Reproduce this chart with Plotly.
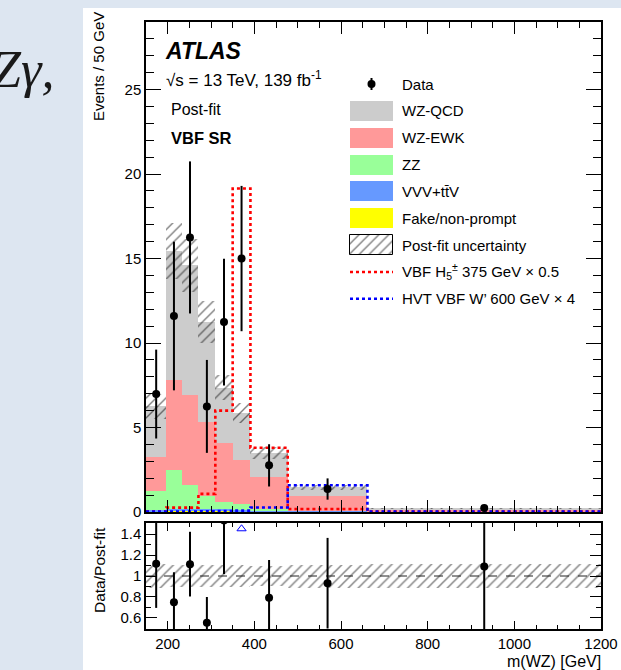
import plotly.graph_objects as go
import numpy as np

# ---------------- data ----------------
edges = [150, 197, 232, 271, 310, 350, 391, 477, 661, 1200]           # m(WZ) bin edges [GeV]
data = [6.98, 11.6, 16.25, 6.25, 11.24, 15.0, 2.76, 1.36, 0.24]         # Events / 50 GeV
data_err = [2.63, 4.4, 4.5, 2.75, 3.75, 4.3, 1.25, 0.63, 0.15]
fake = [0.04, 0.08, 0.08, 0.04, 0.04, 0.03, 0.03, 0.02, 0.01]
vvv_ttv = [0.10, 0.12, 0.12, 0.12, 0.12, 0.10, 0.07, 0.04, 0.02]
zz = [1.08, 2.30, 1.42, 0.76, 0.41, 0.32, 0.05, 0.02, 0.01]
wz_ewk = [2.06, 5.33, 5.32, 4.38, 3.51, 2.60, 1.90, 0.89, 0.08]
wz_qcd = [2.97, 7.62, 7.66, 5.95, 3.27, 2.80, 1.43, 0.49, 0.10]
post_fit_unc = [0.72, 1.68, 1.55, 1.22, 0.75, 0.60, 0.34, 0.16, 0.025]
sig_h5 = [0.03, 0.26, 0.26, 1.07, 6.0, 19.15, 3.8, 0.18, 0.03]        # VBF H5 375 GeV x 0.5
sig_hvt = [0.03, 0.03, 0.03, 0.04, 0.05, 0.08, 0.27, 1.58, 0.02]      # HVT W' 600 GeV x 4

bkg_names = ["Fake/non-prompt", "VVV+tt\u0304V", "ZZ", "WZ-EWK", "WZ-QCD"]
bkg_values = [fake, vvv_ttv, zz, wz_ewk, wz_qcd]
bkg_colors = ["#ffff00", "#6699ff", "#99ff99", "#ff9999", "#cccccc"]

x_ticks = [200, 400, 600, 800, 1000, 1200]
main_y_ticks = [0, 5, 10, 15, 20, 25]
ratio_ticks = [0.6, 0.8, 1.0, 1.2, 1.4]
ratio_tick_text = ["0.6", "0.8", "1", "1.2", "1.4"]

# ---------------- geometry ----------------
W, H = 621, 670
L, R, T, B = 146, 20, 22, 41
PW, PH = W - L - R, H - T - B
def px(x):
    return (x - L) / PW
def py(y):
    return (H - B - y) / PH

main_dom = [py(512), 1.0]
ratio_dom = [0.0, py(523)]
RMIN, RMAX = 0.495, 1.505

e = np.array(edges, float)
centers = (e[:-1] + e[1:]) / 2
widths = e[1:] - e[:-1]
d = np.array(data)
de = np.array(data_err)
pred = np.sum(np.array(bkg_values), axis=0)
unc = np.array(post_fit_unc)

FONT = "Liberation Sans, Arial, Helvetica, sans-serif"
fig = go.Figure()

# stacked backgrounds
base = np.zeros(len(centers))
for name, vals, col in zip(bkg_names, bkg_values, bkg_colors):
    v = np.array(vals)
    fig.add_trace(go.Bar(x=centers, y=v, base=base.copy(), width=widths,
                         marker=dict(color=col, line=dict(width=0)),
                         name=name, showlegend=False, xaxis="x", yaxis="y"))
    base = base + v

# post-fit uncertainty hatch
hatch = dict(shape="/", fgcolor="black", bgcolor="rgba(0,0,0,0)", size=7,
             solidity=0.2, fillmode="overlay")
fig.add_trace(go.Bar(x=centers, y=2 * unc, base=pred - unc, width=widths,
                     marker=dict(color="rgba(0,0,0,0)", line=dict(width=0), pattern=hatch),
                     showlegend=False, xaxis="x", yaxis="y"))

# signals as step lines
for vals, col in [(sig_h5, "#ff0000"), (sig_hvt, "#0000ff")]:
    fig.add_trace(go.Scatter(x=list(e), y=list(vals) + [vals[-1]], mode="lines",
                             line=dict(color=col, width=2.6, dash="dot", shape="hv"),
                             showlegend=False, xaxis="x", yaxis="y"))

# data
fig.add_trace(go.Scatter(x=centers, y=d, mode="markers",
                         marker=dict(color="black", size=8),
                         error_y=dict(type="data", array=de, color="black", thickness=2, width=0),
                         showlegend=False, xaxis="x", yaxis="y"))

# ---------------- ratio panel ----------------
ratio = d / pred
rerr = de / pred
fig.add_trace(go.Bar(x=centers, y=2 * unc / pred, base=1 - unc / pred, width=widths,
                     marker=dict(color="rgba(0,0,0,0)", line=dict(width=0), pattern=hatch),
                     showlegend=False, xaxis="x2", yaxis="y2"))
fig.add_trace(go.Scatter(x=[edges[0], edges[-1]], y=[1, 1], mode="lines",
                         line=dict(color="#222222", width=1, dash="dash"),
                         showlegend=False, xaxis="x2", yaxis="y2"))
fig.add_trace(go.Scatter(x=centers, y=ratio, mode="markers",
                         marker=dict(color="black", size=8),
                         error_y=dict(type="data", array=rerr, color="black", thickness=2, width=0),
                         showlegend=False, xaxis="x2", yaxis="y2"))
over = (ratio - rerr) > RMAX
fig.add_trace(go.Scatter(x=centers[over], y=[1.45] * int(over.sum()), mode="markers",
                         marker=dict(symbol="triangle-up-open", color="#0000ff", size=8,
                                     line=dict(width=1, color="#0000ff")),
                         showlegend=False, xaxis="x2", yaxis="y2"))

# ---------------- legend (drawn on a pixel overlay axis) ----------------
leg_labels = ["Data", "WZ-QCD", "WZ-EWK", "ZZ", "VVV+tt\u0304V", "Fake/non-prompt",
              "Post-fit uncertainty", "VBF H<sub>5</sub><sup>\u00b1</sup> 375 GeV \u00d7 0.5",
              "HVT VBF W\u2019 600 GeV \u00d7 4"]
row_y = [84 + i * 26.85 for i in range(len(leg_labels))]
bx0, bx1 = 350, 393
bxc = (bx0 + bx1) / 2
box_cols = ["#cccccc", "#ff9999", "#99ff99", "#6699ff", "#ffff00"]
fig.add_trace(go.Bar(x=[bxc] * 5, y=[20] * 5, base=[row_y[i] - 10 for i in range(1, 6)],
                     width=[bx1 - bx0] * 5, marker=dict(color=box_cols, line=dict(width=0)),
                     showlegend=False, xaxis="x3", yaxis="y3"))
fig.add_trace(go.Bar(x=[bxc], y=[20], base=[row_y[6] - 10], width=[bx1 - bx0],
                     marker=dict(color="rgba(0,0,0,0)", line=dict(width=1, color="black"), pattern=hatch),
                     showlegend=False, xaxis="x3", yaxis="y3"))
fig.add_trace(go.Scatter(x=[bxc], y=[row_y[0]], mode="markers",
                         marker=dict(color="black", size=8),
                         error_y=dict(type="data", array=[6], color="black", thickness=2, width=0),
                         showlegend=False, xaxis="x3", yaxis="y3"))
for i, col in [(7, "#ff0000"), (8, "#0000ff")]:
    fig.add_trace(go.Scatter(x=[bx0, bx1], y=[row_y[i], row_y[i]], mode="lines",
                             line=dict(color=col, width=2.6, dash="dot"),
                             showlegend=False, xaxis="x3", yaxis="y3"))

ann = []
for lab, yy in zip(leg_labels, row_y):
    ann.append(dict(x=px(400), y=py(yy), xref="paper", yref="paper", text=lab,
                    xanchor="left", yanchor="middle", showarrow=False,
                    font=dict(family=FONT, size=15, color="black")))

ann += [
    dict(x=px(163), y=py(51), text="<b><i>ATLAS</i></b>", font=dict(family=FONT, size=23, color="black")),
    dict(x=px(164), y=py(79), text="\u221as = 13 TeV, 139 fb<sup>-1</sup>", font=dict(family=FONT, size=17, color="black")),
    dict(x=px(169), y=py(110), text="Post-fit", font=dict(family=FONT, size=16, color="black")),
    dict(x=px(169), y=py(138), text="<b>VBF SR</b>", font=dict(family=FONT, size=16.5, color="black")),
]
for a in ann[-4:]:
    a.update(xref="paper", yref="paper", xanchor="left", yanchor="middle", showarrow=False)

ann += [
    dict(x=px(99), y=py(67), xref="paper", yref="paper", text="Events / 50 GeV", textangle=-90,
         xanchor="center", yanchor="middle", showarrow=False, font=dict(family=FONT, size=15, color="black")),
    dict(x=px(99), y=py(570), xref="paper", yref="paper", text="Data/Post-fit", textangle=-90,
         xanchor="center", yanchor="middle", showarrow=False, font=dict(family=FONT, size=15.5, color="black")),
    dict(x=px(603), y=py(661), xref="paper", yref="paper", text="m(WZ) [GeV]",
         xanchor="right", yanchor="middle", showarrow=False, font=dict(family=FONT, size=16, color="black")),
    dict(x=px(56), y=py(70), xref="paper", yref="paper", text="<i>Z\u03b3,</i>",
         xanchor="right", yanchor="middle", showarrow=False,
         font=dict(family="Liberation Serif, DejaVu Serif, serif", size=52, color="#1a1a1a")),
]

shapes = [dict(type="rect", xref="paper", yref="paper", x0=px(83), x1=px(640), y0=py(700), y1=py(8),
               fillcolor="white", line=dict(width=0), layer="below")]

axis_common = dict(showline=True, linecolor="black", linewidth=1.5, mirror="allticks",
                   ticks="inside", tickcolor="black", tickwidth=1.3, showgrid=False, zeroline=False,
                   automargin=False, tickfont=dict(family=FONT, size=15, color="black"))

fig.update_layout(
    width=W, height=H, margin=dict(l=L, r=R, t=T, b=B, pad=0, autoexpand=False),
    paper_bgcolor="#dde6f1", plot_bgcolor="white", barmode="overlay", bargap=0,
    showlegend=False, annotations=ann, shapes=shapes,
    xaxis=dict(domain=[0, 1], range=[edges[0], edges[-1]], anchor="y", matches="x2",
               showticklabels=False, tickmode="array", tickvals=x_ticks, ticklen=12,
               minor=dict(ticks="inside", ticklen=6, tick0=150, dtick=50, tickcolor="black", tickwidth=1),
               **axis_common),
    yaxis=dict(domain=main_dom, range=[0, 29], anchor="x", tickmode="array", tickvals=main_y_ticks,
               ticklen=15, minor=dict(ticks="inside", ticklen=8, tick0=0, dtick=1, tickcolor="black", tickwidth=1),
               **axis_common),
    xaxis2=dict(domain=[0, 1], range=[edges[0], edges[-1]], anchor="y2", tickmode="array",
                tickvals=x_ticks, ticklen=8,
                minor=dict(ticks="inside", ticklen=4, tick0=150, dtick=50, tickcolor="black", tickwidth=1),
                **axis_common),
    yaxis2=dict(domain=ratio_dom, range=[RMIN, RMAX], anchor="x2", tickmode="array",
                tickvals=ratio_ticks, ticktext=ratio_tick_text, ticklen=11,
                minor=dict(ticks="inside", ticklen=5, tick0=0.5, dtick=0.1, tickcolor="black", tickwidth=1),
                **axis_common),
    xaxis3=dict(overlaying="x", range=[L, W - R], visible=False, anchor="y3", automargin=False),
    yaxis3=dict(overlaying="y", range=[512, 22], visible=False, anchor="x3", automargin=False),
)

fig.write_html("out.html")
